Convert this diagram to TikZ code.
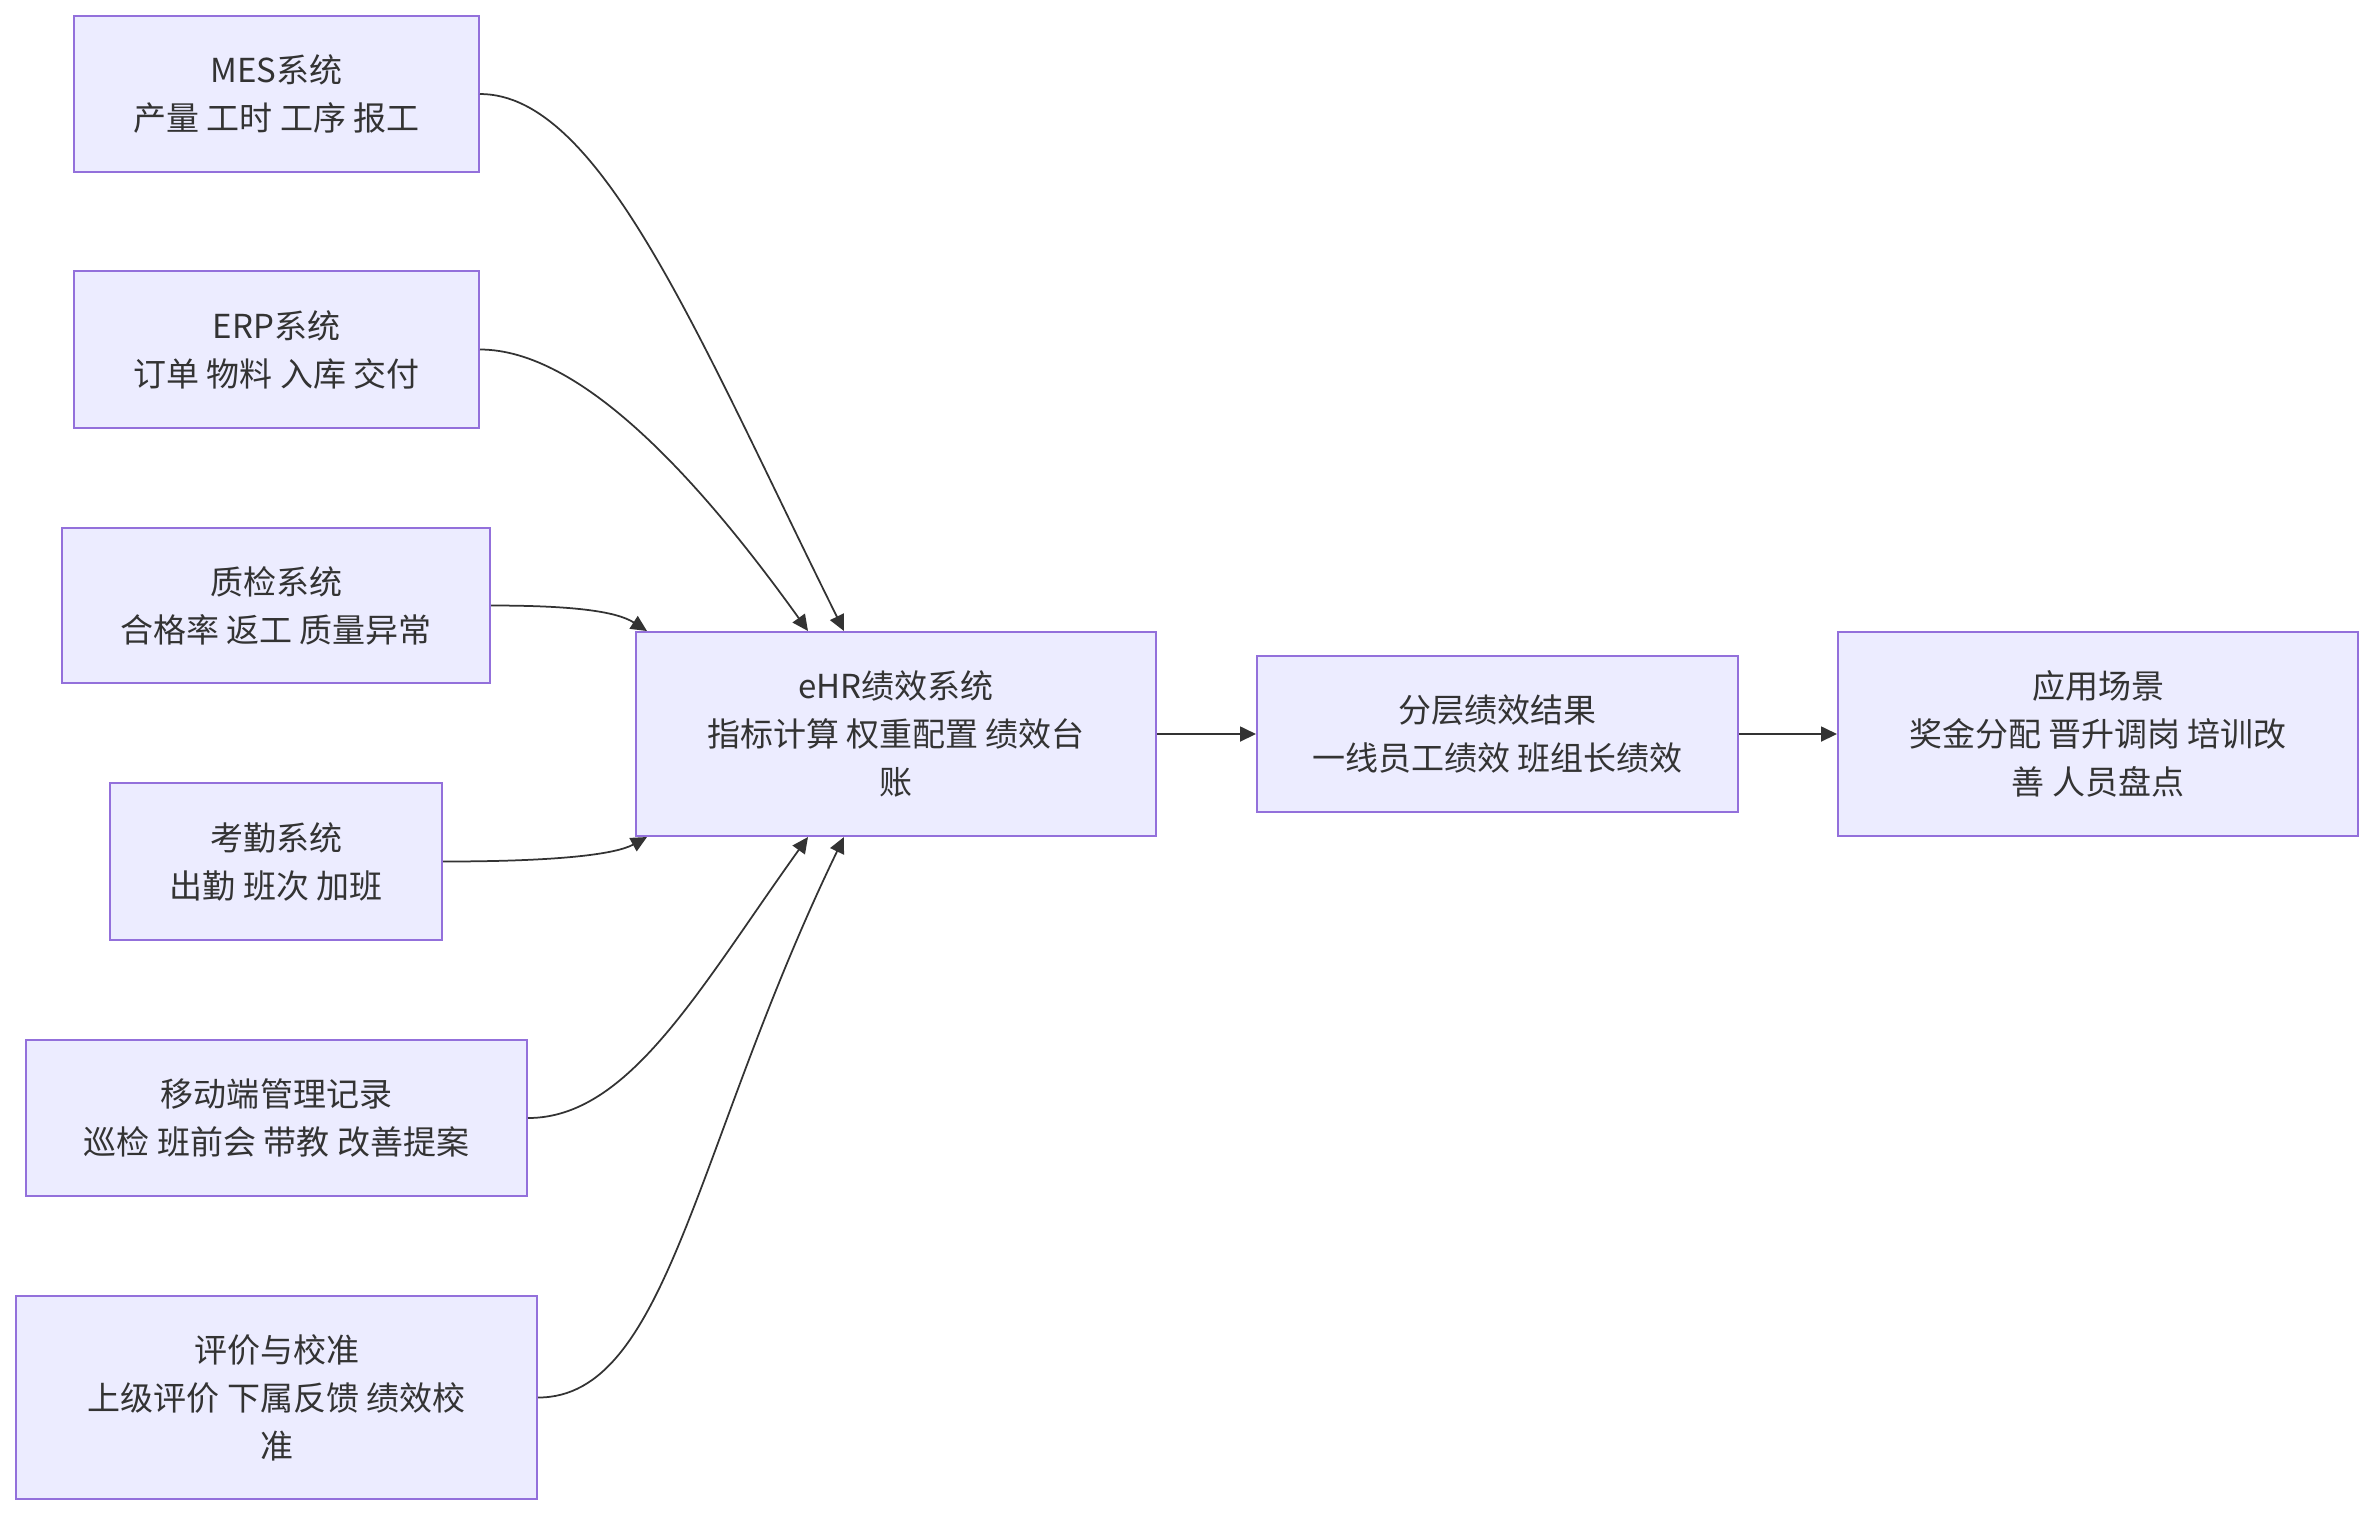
\documentclass[tikz,border=0pt]{standalone}
\usepackage{fontspec}
\setmainfont{Noto Sans CJK SC}
\usetikzlibrary{arrows.meta,calc}
\definecolor{boxfill}{HTML}{ECECFF}
\definecolor{boxline}{HTML}{9370DB}
\definecolor{ink}{HTML}{333333}
\begin{document}
\begin{tikzpicture}[x=0.4pt,y=-0.4pt,
  box/.style={draw=boxline,fill=boxfill,line width=0.8pt,align=center,
    text=ink,font=\fontsize{13.2pt}{19.2pt}\selectfont,inner sep=0pt},
  link/.style={draw=ink,line width=0.7pt,-{Triangle[length=6.4pt,width=6pt]}}]
\useasboundingbox (0,0) rectangle (2373,1516);
\node[box,minimum width=405*0.4pt,minimum height=156*0.4pt] (mes) at (276.5,94) {MES系统\\产量 工时 工序 报工};
\node[box,minimum width=405*0.4pt,minimum height=157*0.4pt] (erp) at (276.5,349.5) {ERP系统\\订单 物料 入库 交付};
\node[box,minimum width=428*0.4pt,minimum height=155*0.4pt] (qc) at (276,605.5) {质检系统\\合格率 返工 质量异常};
\node[box,minimum width=332*0.4pt,minimum height=157*0.4pt] (att) at (276,861.5) {考勤系统\\出勤 班次 加班};
\node[box,minimum width=501*0.4pt,minimum height=156*0.4pt] (mob) at (276.5,1118) {移动端管理记录\\巡检 班前会 带教 改善提案};
\node[box,minimum width=521*0.4pt,minimum height=203*0.4pt] (eva) at (276.5,1397.5) {评价与校准\\上级评价 下属反馈 绩效校\\准};
\node[box,minimum width=520*0.4pt,minimum height=204*0.4pt] (ehr) at (896,734) {eHR绩效系统\\指标计算 权重配置 绩效台\\账};
\node[box,minimum width=481*0.4pt,minimum height=156*0.4pt] (lay) at (1497.5,734) {分层绩效结果\\一线员工绩效 班组长绩效};
\node[box,minimum width=520*0.4pt,minimum height=204*0.4pt] (app) at (2098,734) {应用场景\\奖金分配 晋升调岗 培训改\\善 人员盘点};
\coordinate (t1) at ($(ehr.north west)+(209,0)$);
\coordinate (t2) at ($(ehr.north west)+(173,0)$);
\coordinate (t3) at ($(ehr.north west)+(12,0)$);
\coordinate (b3) at ($(ehr.south west)+(12,0)$);
\coordinate (b2) at ($(ehr.south west)+(173,0)$);
\coordinate (b1) at ($(ehr.south west)+(209,0)$);
\draw[link] (mes.east) .. controls +(121,0) and +(-145,-292) .. (t1);
\draw[link] (erp.east) .. controls +(101,0) and +(-109,-152) .. (t2);
\draw[link] (qc.east) .. controls +(80,0) and +(-31,-20) .. (t3);
\draw[link] (att.east) .. controls +(118,0) and +(-31,17) .. (b3);
\draw[link] (mob.east) .. controls +(101,0) and +(-109,152) .. (b2);
\draw[link] (eva.east) .. controls +(130,0) and +(-150,310) .. (b1);
\draw[link] (ehr.east) -- (lay.west);
\draw[link] (lay.east) -- (app.west);
\end{tikzpicture}
\end{document}
